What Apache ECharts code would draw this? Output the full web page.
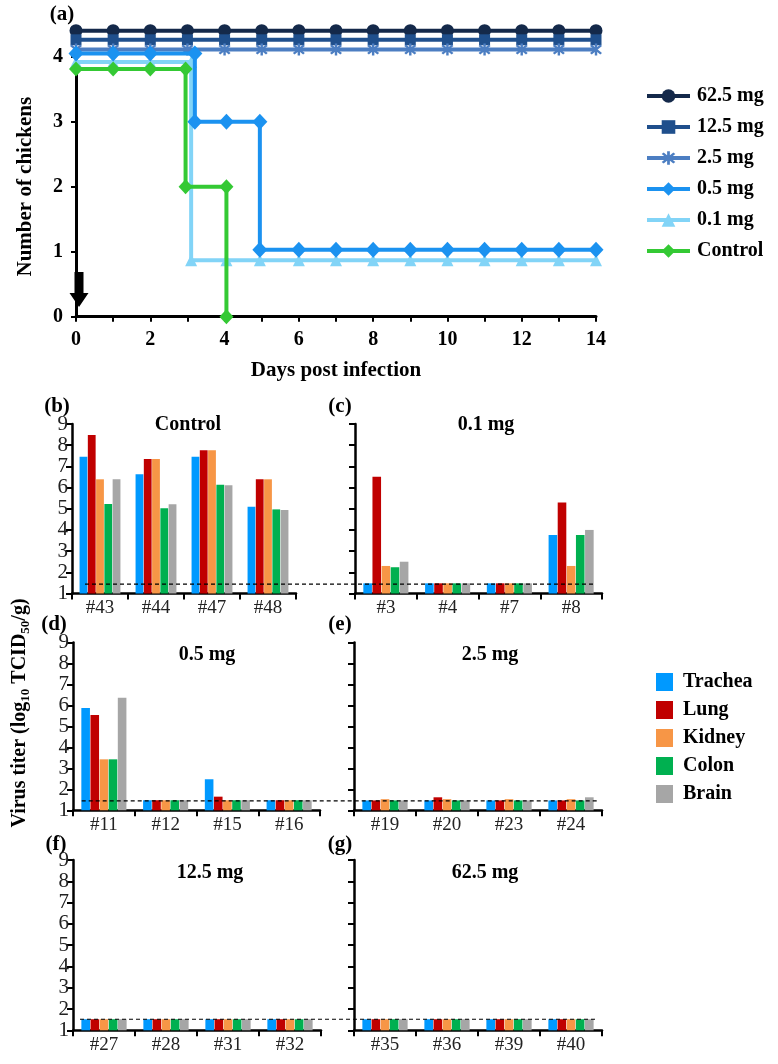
<!DOCTYPE html>
<html><head><meta charset="utf-8">
<script src="https://cdn.jsdelivr.net/npm/echarts@6/dist/echarts.min.js"></script>
<style>html,body{margin:0;padding:0;background:#fff}#c{width:778px;height:1064px}</style>
</head><body><div id="c"></div>
<script>
const FONT = '"Liberation Serif", "Times New Roman", serif';

// ---------- Panel (a): survival (values as plotted, lines offset for visibility) ----------
const doseNames = ['62.5 mg', '12.5 mg', '2.5 mg', '0.5 mg', '0.1 mg', 'Control'];
const dose625 = [[0,4.4],[1,4.4],[2,4.4],[3,4.4],[4,4.4],[5,4.4],[6,4.4],[7,4.4],[8,4.4],[9,4.4],[10,4.4],[11,4.4],[12,4.4],[13,4.4],[14,4.4]];
const dose125 = [[0,4.26],[1,4.26],[2,4.26],[3,4.26],[4,4.26],[5,4.26],[6,4.26],[7,4.26],[8,4.26],[9,4.26],[10,4.26],[11,4.26],[12,4.26],[13,4.26],[14,4.26]];
const dose25 = [[0,4.11],[1,4.11],[2,4.11],[3,4.11],[4,4.11],[5,4.11],[6,4.11],[7,4.11],[8,4.11],[9,4.11],[10,4.11],[11,4.11],[12,4.11],[13,4.11],[14,4.11]];
const dose05 = [[0,4.05],[1,4.05],[2,4.05],[3.2,4.05],[3.2,3],[4.05,3],[4.95,3],[4.95,1.03],[6,1.03],[7,1.03],[8,1.03],[9,1.03],[10,1.03],[11,1.03],[12,1.03],[13,1.03],[14,1.03]];
const dose01 = [[0,3.92],[1,3.92],[2,3.92],[3.1,3.92],[3.1,0.87],[4.05,0.87],[4.95,0.87],[6,0.87],[7,0.87],[8,0.87],[9,0.87],[10,0.87],[11,0.87],[12,0.87],[13,0.87],[14,0.87]];
const doseCtrl = [[0,3.81],[1,3.81],[2,3.81],[2.95,3.81],[2.95,2],[4.05,2],[4.05,0]];

// ---------- Panels (b)-(g): virus titers, rows = Trachea, Lung, Kidney, Colon, Brain ----------
const organs = ['Trachea', 'Lung', 'Kidney', 'Colon', 'Brain'];
const catsControl = ['#43', '#44', '#47', '#48'];
const titersControl = [
  [7.46, 6.63, 7.46, 5.10],
  [8.48, 7.35, 7.76, 6.39],
  [6.39, 7.35, 7.76, 6.39],
  [5.22, 5.02, 6.13, 4.97],
  [6.39, 5.21, 6.11, 4.94]
];
const cats01 = ['#3', '#4', '#7', '#8'];
const titers01 = [
  [1.48, 1.48, 1.48, 3.76],
  [6.51, 1.48, 1.48, 5.30],
  [2.30, 1.48, 1.48, 2.30],
  [2.24, 1.48, 1.48, 3.76],
  [2.50, 1.48, 1.48, 4.00]
];
const cats05 = ['#11', '#12', '#15', '#16'];
const titers05 = [
  [5.88, 1.48, 2.48, 1.48],
  [5.54, 1.48, 1.65, 1.48],
  [3.43, 1.48, 1.48, 1.48],
  [3.43, 1.48, 1.48, 1.48],
  [6.36, 1.48, 1.48, 1.48]
];
const cats25 = ['#19', '#20', '#23', '#24'];
const titers25 = [
  [1.47, 1.47, 1.47, 1.47],
  [1.47, 1.62, 1.47, 1.47],
  [1.53, 1.53, 1.53, 1.53],
  [1.47, 1.47, 1.47, 1.47],
  [1.47, 1.47, 1.47, 1.62]
];
const cats125 = ['#27', '#28', '#31', '#32'];
const titers125 = [
  [1.52, 1.52, 1.52, 1.52],
  [1.52, 1.52, 1.52, 1.52],
  [1.52, 1.52, 1.52, 1.52],
  [1.52, 1.52, 1.52, 1.52],
  [1.52, 1.52, 1.52, 1.52]
];
const cats625 = ['#35', '#36', '#39', '#40'];
const titers625 = [
  [1.52, 1.52, 1.52, 1.52],
  [1.52, 1.52, 1.52, 1.52],
  [1.52, 1.52, 1.52, 1.52],
  [1.52, 1.52, 1.52, 1.52],
  [1.52, 1.52, 1.52, 1.52]
];
const detectionLimit = [1.44, 1.45, 1.52]; // dashed line per row

// ---------- styling ----------
const doseColors = ['#14294a', '#1f4f8c', '#4c7ec2', '#1b92f0', '#82d4f7', '#34c934'];
const doseSymbols = ['circle', 'rect',
  'path://M-1,-6L1,-6L1,6L-1,6Z M-3.53,-4.95L4.95,3.53L3.53,4.95L-4.95,-3.53Z M4.95,-3.53L-3.53,4.95L-4.95,3.53L3.53,-4.95Z',
  'diamond', 'triangle', 'diamond'];
const doseSymbolSizes = [13, 11, 12, [15, 16], 12, [14, 15]];
const organColors = ['#0099ff', '#c00000', '#f79646', '#00b050', '#a6a6a6'];

const panels = [
  { cats: catsControl, data: titersControl, grid: { left: 72, top: 424, width: 224, height: 169.5 }, labels: true },
  { cats: cats01, data: titers01, grid: { left: 355, top: 424, width: 247, height: 169.5 }, labels: false },
  { cats: cats05, data: titers05, grid: { left: 73, top: 642.5, width: 247, height: 167.8 }, labels: true },
  { cats: cats25, data: titers25, grid: { left: 354, top: 642.5, width: 248, height: 167.8 }, labels: false },
  { cats: cats125, data: titers125, grid: { left: 73, top: 860, width: 248, height: 170.3 }, labels: true },
  { cats: cats625, data: titers625, grid: { left: 354, top: 860, width: 248, height: 170.3 }, labels: false }
];
const dashGrids = [
  { left: 85, top: 424, width: 511, height: 169.5 },
  { left: 81.7, top: 642.5, width: 515, height: 167.8 },
  { left: 80, top: 860, width: 517, height: 170.3 }
];

const grids = [{ left: 76, top: 56.7, width: 520, height: 260 }];
const xAxes = [{
  gridIndex: 0, type: 'value', min: 0, max: 14, interval: 1,
  axisLine: { lineStyle: { color: '#000', width: 3 } },
  axisTick: { length: 5, lineStyle: { color: '#000', width: 2 } },
  splitLine: { show: false },
  axisLabel: { formatter: v => (v % 2 === 0 ? String(v) : ''), fontFamily: FONT, fontWeight: 'bold', fontSize: 20, color: '#000', margin: 13 },
  name: 'Days post infection', nameLocation: 'middle', nameGap: 43,
  nameTextStyle: { fontFamily: FONT, fontWeight: 'bold', fontSize: 21, color: '#000' }
}];
const yAxes = [{
  gridIndex: 0, type: 'value', min: 0, max: 4, interval: 1, offset: 4,
  axisLine: { show: true, lineStyle: { color: '#000', width: 3 } },
  axisTick: { show: true, length: 5, lineStyle: { color: '#000', width: 2 } },
  splitLine: { show: false },
  axisLabel: { fontFamily: FONT, fontWeight: 'bold', fontSize: 20, color: '#000', margin: 9 },
  name: 'Number of chickens', nameLocation: 'middle', nameGap: 36,
  nameTextStyle: { fontFamily: FONT, fontWeight: 'bold', fontSize: 21, color: '#000' }
}];
const series = [];
const doseData = [dose625, dose125, dose25, dose05, dose01, doseCtrl];
const doseZ = [2, 2, 2, 3, 1, 4];
doseNames.forEach((n, i) => {
  series.push({
    name: n, type: 'line', xAxisIndex: 0, yAxisIndex: 0, data: doseData[i],
    clip: false, symbol: doseSymbols[i], symbolSize: doseSymbolSizes[i], showAllSymbol: true,
    z: doseZ[i],
    lineStyle: { color: doseColors[i], width: 4 },
    itemStyle: { color: doseColors[i] },
    silent: true, animation: false
  });
});

panels.forEach((p, k) => {
  const gi = k + 1;
  grids.push(p.grid);
  xAxes.push({
    gridIndex: gi, type: 'category', data: p.cats, boundaryGap: true,
    axisLine: { lineStyle: { color: '#000', width: 2.5 } },
    axisTick: { show: true, length: 6, inside: false, lineStyle: { color: '#000', width: 2 } },
    axisLabel: { fontFamily: FONT, fontSize: 19, color: '#222', margin: 5 }
  });
  yAxes.push({
    gridIndex: gi, type: 'value', min: 1, max: 9, interval: 1,
    axisLine: { show: true, lineStyle: { color: '#000', width: 2.5 } },
    axisTick: { show: true, length: 6, lineStyle: { color: '#000', width: 2 } },
    splitLine: { show: false },
    axisLabel: { show: p.labels, fontFamily: FONT, fontSize: 21, color: '#222', margin: 4 }
  });
  organs.forEach((o, j) => {
    series.push({
      name: o, type: 'bar', xAxisIndex: gi, yAxisIndex: gi, data: p.data[j],
      barGap: '6%', barCategoryGap: '27%',
      itemStyle: { color: organColors[j] }, silent: true, animation: false
    });
  });
});

dashGrids.forEach((g, r) => {
  const gi = grids.length;
  grids.push(g);
  xAxes.push({ gridIndex: gi, type: 'value', min: 0, max: 1, show: false });
  yAxes.push({ gridIndex: gi, type: 'value', min: 1, max: 9, show: false });
  series.push({
    type: 'line', xAxisIndex: gi, yAxisIndex: gi, symbol: 'none', silent: true, animation: false, z: 5,
    data: [[0, detectionLimit[r]], [1, detectionLimit[r]]],
    lineStyle: { color: '#000', width: 1.2, type: [4, 3] }
  });
});

const txt = (x, y, text, size, weight, align) => ({
  type: 'text', x, y, silent: true,
  style: { text, fill: '#000', font: `${weight || 'bold'} ${size}px ${FONT}`, textAlign: align || 'center', textVerticalAlign: 'middle' }
});

const graphic = [
  txt(62, 15, '(a)', 21),
  txt(57, 407, '(b)', 21), txt(340, 407, '(c)', 21),
  txt(54, 625, '(d)', 21), txt(340, 625, '(e)', 21),
  txt(56, 845, '(f)', 21), txt(340, 845, '(g)', 21),
  txt(188, 425, 'Control', 20), txt(486, 425, '0.1 mg', 20),
  txt(207, 655, '0.5 mg', 20), txt(490, 655, '2.5 mg', 20),
  txt(210, 873, '12.5 mg', 20), txt(485, 873, '62.5 mg', 20),
  {
    type: 'polygon', silent: true,
    shape: { points: [[74.5, 272], [83.5, 272], [83.5, 293], [88.5, 293], [79, 307], [69.5, 293], [74.5, 293]] },
    style: { fill: '#000' }
  },
  {
    type: 'text', x: 20, y: 713, rotation: Math.PI / 2, silent: true,
    style: {
      text: '{b|Virus titer (log}{s|10}{b| TCID}{s|50}{b|/g)}',
      textAlign: 'center', textVerticalAlign: 'middle',
      rich: {
        b: { fontFamily: FONT, fontWeight: 'bold', fontSize: 20, fill: '#000', lineHeight: 24, verticalAlign: 'middle' },
        s: { fontFamily: FONT, fontWeight: 'bold', fontSize: 13, fill: '#000', lineHeight: 11, verticalAlign: 'bottom' }
      }
    }
  }
];

const chart = echarts.init(document.getElementById('c'), null, { renderer: 'canvas' });
chart.setOption({
  animation: false,
  backgroundColor: '#fff',
  grid: grids, xAxis: xAxes, yAxis: yAxes, series,
  legend: [
    {
      data: doseNames, orient: 'vertical', left: 640, top: 81, itemWidth: 43, itemHeight: 17, itemGap: 11,
      selectedMode: false,
      lineStyle: { width: 4 },
      textStyle: { fontFamily: FONT, fontWeight: 'bold', fontSize: 20, color: '#000', padding: [0, 0, 0, 2] }
    },
    {
      data: organs, orient: 'vertical', left: 651, top: 667, itemWidth: 17, itemHeight: 18, itemGap: 8,
      icon: 'rect', selectedMode: false,
      textStyle: { fontFamily: FONT, fontWeight: 'bold', fontSize: 20, color: '#000', padding: [0, 0, 0, 5] }
    }
  ],
  graphic
});
</script></body></html>
